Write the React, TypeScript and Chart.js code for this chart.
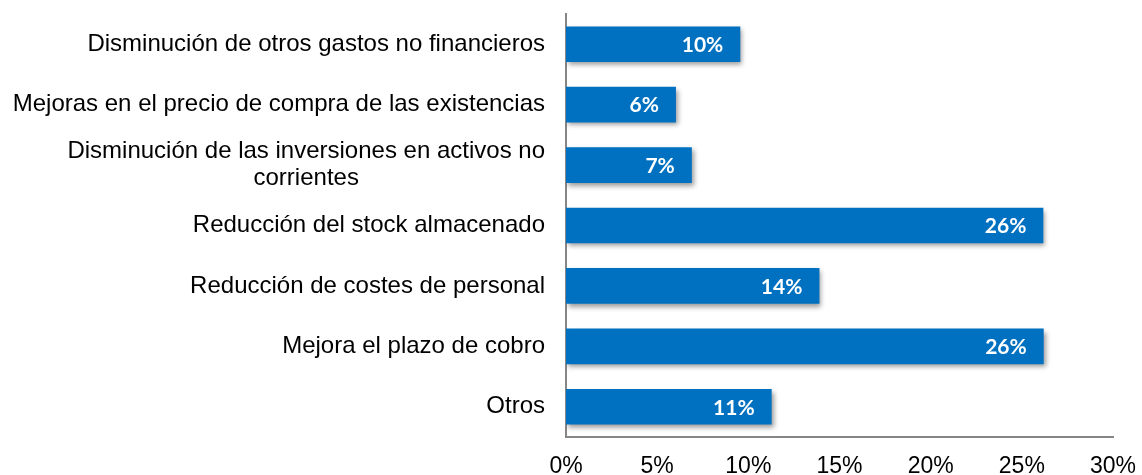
import React, { useEffect, useRef } from "react";
import { Chart, registerables } from "chart.js";

Chart.register(...registerables);

const categories: string[][] = [
  ["Disminución de otros gastos no financieros"],
  ["Mejoras en el precio de compra de las existencias"],
  ["Disminución de las inversiones en activos no", "corrientes"],
  ["Reducción del stock almacenado"],
  ["Reducción de costes de personal"],
  ["Mejora el plazo de cobro"],
  ["Otros"],
];
const values: number[] = [9.56, 6.03, 6.9, 26.18, 13.9, 26.2, 11.28];
const valueLabels: string[] = ["10%", "6%", "7%", "26%", "14%", "26%", "11%"];
const xTicks: number[] = [0, 5, 10, 15, 20, 25, 30];

const BAR_COLOR = "#0070C0";
const AXIS_COLOR = "#868686";
const CAT_FONT = "24px 'Liberation Sans', Arial, sans-serif";
const VAL_FONT = "bold 21px Lato, 'Open Sans', sans-serif";

const shadowPlugin = {
  id: "barShadow",
  beforeDatasetsDraw(chart: any) {
    const ctx = chart.ctx;
    ctx.save();
    ctx.shadowColor = "rgba(0,0,0,0.4)";
    ctx.shadowBlur = 5;
    ctx.shadowOffsetX = 2;
    ctx.shadowOffsetY = 3;
  },
  afterDatasetsDraw(chart: any) {
    chart.ctx.restore();
  },
};

const labelsPlugin = {
  id: "customLabels",
  afterDraw(chart: any) {
    const ctx = chart.ctx;
    const yScale = chart.scales.y;
    const meta = chart.getDatasetMeta(0);
    ctx.save();
    // category labels
    ctx.font = CAT_FONT;
    ctx.fillStyle = "#000000";
    ctx.textAlign = "center";
    ctx.textBaseline = "middle";
    const rightEdge = chart.chartArea.left - 21;
    const lineH = 27;
    categories.forEach((lines, i) => {
      const cy = yScale.getPixelForTick(i);
      const widths = lines.map((l) => ctx.measureText(l).width);
      const maxW = Math.max(...widths);
      const cx = rightEdge - maxW / 2;
      const startY = cy - ((lines.length - 1) * lineH) / 2;
      lines.forEach((l, j) => {
        ctx.fillText(l, cx, startY + j * lineH);
      });
    });
    // value labels
    ctx.font = VAL_FONT;
    ctx.fillStyle = "#FFFFFF";
    ctx.textAlign = "right";
    meta.data.forEach((bar: any, i: number) => {
      ctx.fillText(valueLabels[i], bar.x - 17, bar.y + 1);
    });
    ctx.restore();
  },
};

export default function App() {
  const canvasRef = useRef<HTMLCanvasElement | null>(null);

  useEffect(() => {
    if (!canvasRef.current) return;
    const chart = new Chart(canvasRef.current, {
      type: "bar",
      data: {
        labels: categories.map((c) => c.join(" ")),
        datasets: [
          {
            data: values,
            backgroundColor: BAR_COLOR,
            borderWidth: 0,
            barPercentage: 0.59,
            categoryPercentage: 1,
          },
        ],
      },
      options: {
        indexAxis: "y",
        animation: false,
        responsive: true,
        maintainAspectRatio: false,
        layout: { padding: { top: 14, right: 29, left: 0, bottom: 0 } },
        plugins: {
          legend: { display: false },
          tooltip: { enabled: false },
        },
        scales: {
          x: {
            type: "linear",
            min: 0,
            max: 30,
            afterBuildTicks: (scale: any) => {
              scale.ticks = xTicks.map((v) => ({ value: v }));
            },
            afterFit: (scale: any) => {
              scale.height = 38;
              scale.paddingLeft = 0;
              scale.paddingRight = 0;
            },
            grid: { display: false, drawTicks: false },
            border: { display: true, color: AXIS_COLOR, width: 2 },
            ticks: {
              callback: (v: any) => v + "%",
              color: "#000000",
              font: { family: "'Liberation Sans', Arial, sans-serif", size: 23 },
              padding: 16,
              maxRotation: 0,
              autoSkip: false,
            },
          },
          y: {
            type: "category",
            afterFit: (scale: any) => {
              scale.width = 566;
            },
            grid: { display: false, drawTicks: false },
            border: { display: true, color: AXIS_COLOR, width: 2 },
            ticks: { display: false },
          },
        },
      },
      plugins: [shadowPlugin, labelsPlugin],
    });
    return () => chart.destroy();
  }, []);

  return (
    <div style={{ position: "fixed", left: 0, top: 0, width: 1142, height: 475, background: "#ffffff" }}>
      <canvas ref={canvasRef} />
    </div>
  );
}
